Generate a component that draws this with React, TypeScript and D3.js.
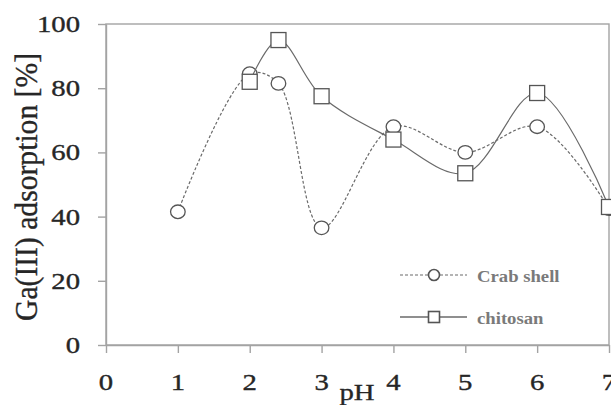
import React, { useEffect, useRef } from "react";
import * as d3 from "d3";

// values
const phTicks = [0, 1, 2, 3, 4, 5, 6, 7];
const adsTicks = [0, 20, 40, 60, 80, 100];
const crabPH = [1, 2, 2.4, 3, 4, 5, 6, 7];
const crabAds = [41.5, 84.5, 81.5, 36.5, 68, 60, 68, 42.5];
const chitosanPH = [2, 2.4, 3, 4, 5, 6, 7];
const chitosanAds = [82, 95, 77.5, 64, 53.5, 78.5, 43];
const seriesNames = ["Crab shell", "chitosan"];

const W = 611;
const H = 405;
const FONT = "'Liberation Serif', 'DejaVu Serif', serif";
const AXIS = "#a3a3a3";
const LINE = "#6a6a6a";
const MARK = "#555";
const INK = "#262626";

export default function App() {
  const ref = useRef<SVGSVGElement>(null);

  useEffect(() => {
    const svg = d3.select(ref.current);
    svg.selectAll("*").remove();

    const x = d3.scaleLinear().domain([0, 7]).range([106, 609]);
    const y = d3.scaleLinear().domain([0, 100]).range([345, 24]);

    //frame
    svg
      .append("rect")
      .attr("x", x(0))
      .attr("y", y(100))
      .attr("width", x(7) - x(0))
      .attr("height", y(0) - y(100))
      .attr("fill", "none")
      .attr("stroke", AXIS)
      .attr("stroke-width", 1.4);

    //axes (ticks only, labels are drawn by hand below)
    const yAxis = svg
      .append("g")
      .attr("transform", `translate(${x(0)},0)`)
      .call(d3.axisLeft(y).tickValues(adsTicks).tickSize(8).tickSizeOuter(0).tickFormat(() => ""));
    const xAxis = svg
      .append("g")
      .attr("transform", `translate(0,${y(0)})`)
      .call(d3.axisBottom(x).tickValues(phTicks).tickSize(8).tickSizeOuter(0).tickFormat(() => ""));
    [yAxis, xAxis].forEach(g => {
      g.selectAll("path,line").attr("stroke", AXIS).attr("stroke-width", 1.4);
    });

    //tick labels, text is a bit wide in the original
    svg
      .selectAll(".ylab")
      .data(adsTicks)
      .enter()
      .append("text")
      .attr("transform", d => `translate(80,${y(d) + 8}) scale(1.25,1)`)
      .attr("text-anchor", "end")
      .attr("font-family", FONT)
      .attr("font-size", 23)
      .attr("fill", INK)
      .attr("stroke", INK)
      .attr("stroke-width", 0.35)
      .text(d => d);
    svg
      .selectAll(".xlab")
      .data(phTicks)
      .enter()
      .append("text")
      .attr("transform", d => `translate(${x(d)},390) scale(1.25,1)`)
      .attr("text-anchor", "middle")
      .attr("font-family", FONT)
      .attr("font-size", 23)
      .attr("fill", INK)
      .attr("stroke", INK)
      .attr("stroke-width", 0.35)
      .text(d => d);

    //axis titles
    svg
      .append("text")
      .attr("transform", "translate(357,400) scale(1.25,1)")
      .attr("text-anchor", "middle")
      .attr("font-family", FONT)
      .attr("font-size", 23)
      .attr("fill", INK)
      .attr("stroke", INK)
      .attr("stroke-width", 0.3)
      .text("pH");
    svg
      .append("text")
      .attr("transform", "translate(37,187) rotate(-90) scale(1,1.2)")
      .attr("text-anchor", "middle")
      .attr("font-family", FONT)
      .attr("font-size", 27)
      .attr("textLength", 268)
      .attr("lengthAdjust", "spacingAndGlyphs")
      .attr("fill", INK)
      .attr("stroke", INK)
      .attr("stroke-width", 0.3)
      .text("Ga(III) adsorption [%]");

    const line = d3
      .line<[number, number]>()
      .x(d => x(d[0]))
      .y(d => y(d[1]))
      .curve(d3.curveCatmullRom.alpha(0.5));

    const crab: [number, number][] = crabPH.map((p, i) => [p, crabAds[i]]);
    const chito: [number, number][] = chitosanPH.map((p, i) => [p, chitosanAds[i]]);

    //crab shell: dashed line + circles
    svg
      .append("path")
      .attr("d", line(crab))
      .attr("fill", "none")
      .attr("stroke", LINE)
      .attr("stroke-width", 1.2)
      .attr("stroke-dasharray", "3,2");
    svg
      .selectAll(".crab")
      .data(crab)
      .enter()
      .append("ellipse")
      .attr("cx", d => x(d[0]))
      .attr("cy", d => y(d[1]))
      .attr("rx", 7.3)
      .attr("ry", 6.8)
      .attr("fill", "#fff")
      .attr("stroke", MARK)
      .attr("stroke-width", 1.3);

    //chitosan: solid line + squares
    svg
      .append("path")
      .attr("d", line(chito))
      .attr("fill", "none")
      .attr("stroke", LINE)
      .attr("stroke-width", 1.2);
    svg
      .selectAll(".chito")
      .data(chito)
      .enter()
      .append("rect")
      .attr("x", d => x(d[0]) - 7.5)
      .attr("y", d => y(d[1]) - 7.5)
      .attr("width", 15)
      .attr("height", 15)
      .attr("fill", "#fff")
      .attr("stroke", MARK)
      .attr("stroke-width", 1.3);

    //legend
    const legend = svg.append("g");
    seriesNames.forEach((name, i) => {
      const ly = 275 + i * 42;
      legend
        .append("line")
        .attr("x1", 400)
        .attr("x2", 467)
        .attr("y1", ly)
        .attr("y2", ly)
        .attr("stroke", LINE)
        .attr("stroke-width", i === 0 ? 1.2 : 1.6)
        .attr("stroke-dasharray", i === 0 ? "3,2" : null);
      if (i === 0) {
        legend
          .append("circle")
          .attr("cx", 434)
          .attr("cy", ly)
          .attr("r", 5.5)
          .attr("fill", "#fff")
          .attr("stroke", MARK)
          .attr("stroke-width", 1.6);
      } else {
        legend
          .append("rect")
          .attr("x", 434 - 5.5)
          .attr("y", ly - 5.5)
          .attr("width", 11)
          .attr("height", 11)
          .attr("fill", "#fff")
          .attr("stroke", MARK)
          .attr("stroke-width", 1.6);
      }
      legend
        .append("text")
        .attr("transform", `translate(477,${ly + 7}) scale(1.1,1)`)
        .attr("font-family", FONT)
        .attr("font-size", 17)
        .attr("font-weight", "bold")
        .attr("fill", "#7a7a7a")
        .text(name);
    });
  }, []);

  return (
    <svg
      ref={ref}
      width={W}
      height={H}
      style={{ position: "absolute", left: 0, top: 0, background: "#fff" }}
    />
  );
}
